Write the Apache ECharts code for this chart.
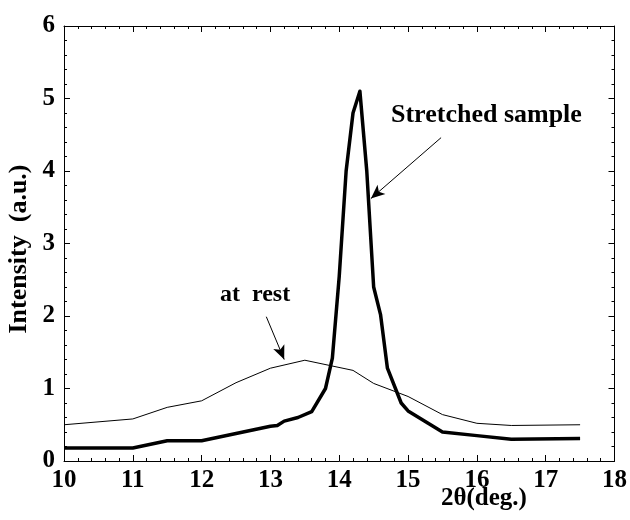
<!DOCTYPE html>
<html><head><meta charset="utf-8">
<script src="https://cdn.jsdelivr.net/npm/echarts@6/dist/echarts.min.js"></script>
<style>html,body{margin:0;padding:0;background:#fff}#c{width:630px;height:520px}</style>
</head><body><div id="c"></div>
<script>
const restX = [10, 11, 11.5, 12, 12.5, 13, 13.5, 14.2, 14.5, 15, 15.5, 16, 16.5, 17.5];
const restY = [0.50, 0.58, 0.74, 0.83, 1.08, 1.28, 1.39, 1.25, 1.07, 0.89, 0.64, 0.52, 0.49, 0.50];
const strX = [10, 11, 11.5, 12, 12.5, 13, 13.1, 13.2, 13.4, 13.6, 13.8, 13.9, 14.0, 14.1, 14.2, 14.3, 14.4, 14.5, 14.6, 14.7, 14.9, 15.0, 15.5, 16, 16.5, 17.5];
const strY = [0.18, 0.18, 0.28, 0.28, 0.38, 0.48, 0.49, 0.55, 0.60, 0.68, 1.00, 1.42, 2.55, 4.00, 4.80, 5.10, 4.00, 2.40, 2.02, 1.28, 0.80, 0.69, 0.40, 0.35, 0.30, 0.31];
const xTicks = [10, 11, 12, 13, 14, 15, 16, 17, 18];
const yTicks = [0, 1, 2, 3, 4, 5, 6];
const labels = {stretched: 'Stretched sample', rest: 'at  rest', xName: '2θ(deg.)', yName: 'Intensity  (a.u.)'};
const arrowStretched = [[15.48, 4.46], [14.46, 3.62]];
const arrowRest = [[12.94, 1.99], [13.2, 1.40]];

const font = 'Liberation Serif';
const chart = echarts.init(document.getElementById('c'), null, {renderer: 'canvas'});
const zip = (a, b) => a.map((v, i) => [v, b[i]]);
const axisCommon = {
  type: 'value',
  axisLine: {show: true, onZero: false, lineStyle: {color: '#000', width: 1}},
  axisTick: {show: true, inside: true, length: 6, lineStyle: {color: '#000'}},
  minorTick: {show: true, splitNumber: 5, length: 3, lineStyle: {color: '#000'}},
  splitLine: {show: false},
  minorSplitLine: {show: false}
};
chart.setOption({
  animation: false,
  backgroundColor: '#fff',
  grid: {left: 64, right: 13, top: 26, bottom: 59, containLabel: false},
  xAxis: [
    Object.assign({}, axisCommon, {min: xTicks[0], max: xTicks[xTicks.length-1], interval: 1, position: 'bottom',
      axisLabel: {color: '#000', fontFamily: font, fontWeight: 'bold', fontSize: 25, margin: 7}}),
    Object.assign({}, axisCommon, {min: xTicks[0], max: xTicks[xTicks.length-1], interval: 1, position: 'top',
      axisLabel: {show: false}})
  ],
  yAxis: [
    Object.assign({}, axisCommon, {min: yTicks[0], max: yTicks[yTicks.length-1], interval: 1, position: 'left',
      axisLabel: {color: '#000', fontFamily: font, fontWeight: 'bold', fontSize: 25, margin: 9}}),
    Object.assign({}, axisCommon, {min: yTicks[0], max: yTicks[yTicks.length-1], interval: 1, position: 'right',
      axisLabel: {show: false}})
  ],
  series: [
    {type: 'line', data: zip(restX, restY), showSymbol: false, symbol: 'none',
     lineStyle: {color: '#000', width: 1}, z: 3},
    {type: 'line', data: zip(strX, strY), showSymbol: false, symbol: 'none',
     lineStyle: {color: '#000', width: 3.5, join: 'round'}, z: 4,
     markLine: {silent: true, symbol: ['none', 'arrow'], symbolSize: [9, 14], label: {show: false},
       lineStyle: {color: '#000', width: 1, type: 'solid'},
       data: [
         [{coord: arrowStretched[0]}, {coord: arrowStretched[1]}],
         [{coord: arrowRest[0]}, {coord: arrowRest[1]}]
       ]}}
  ],
  graphic: [
    {type: 'text', x: 391, y: 115, style: {text: labels.stretched, font: 'bold 26px "Liberation Serif"', fill: '#000', verticalAlign: 'middle'}},
    {type: 'text', x: 220, y: 295, style: {text: labels.rest, font: 'bold 24px "Liberation Serif"', fill: '#000', verticalAlign: 'middle'}},
    {type: 'text', x: 441, y: 499, style: {text: labels.xName, font: 'bold 25px "Liberation Serif"', fill: '#000', verticalAlign: 'middle'}},
    {type: 'text', x: 19, y: 249, rotation: Math.PI/2, style: {text: labels.yName, font: 'bold 26px "Liberation Serif"', fill: '#000', align: 'center', verticalAlign: 'middle'}}
  ]
});
</script></body></html>
